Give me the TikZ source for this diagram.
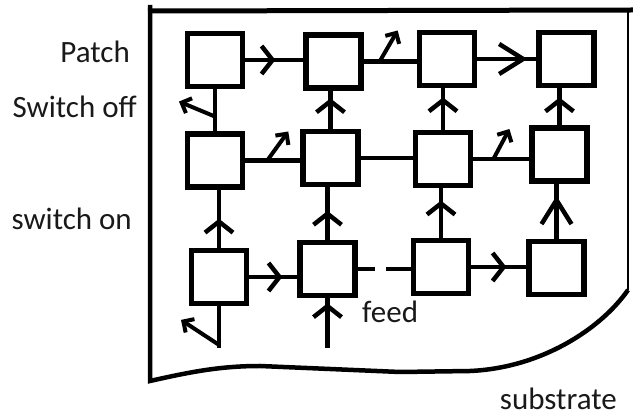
\documentclass[tikz,border=0pt]{standalone}
\usepackage{fontspec}
\setmainfont{Carlito}
\usetikzlibrary{arrows.meta, positioning, decorations.markings}
\tikzset{
    patchbox/.style={rectangle, draw, line width=5.5pt, minimum width=55pt, minimum height=53pt, inner sep=0pt},
    link/.style={line width=4.5pt},
    flow/.style={line width=4.5pt, postaction={decorate}, decoration={markings, mark=at position #1 with {\arrow{Straight Barb[length=11pt, width=28pt, line width=4.5pt]}}}},
    flow/.default=0.5,
    longflow/.style={line width=4.5pt, postaction={decorate}, decoration={markings, mark=at position #1 with {\arrow{Straight Barb[length=24pt, width=30pt, line width=4.5pt]}}}},
    switchoff/.style={line width=4pt, -{Straight Barb[length=8pt, width=16pt, line width=4pt]}},
    textlabel/.style={font=\fontsize{31}{34}\selectfont, text=black!90, inner sep=0pt},
    substrate/.style={line width=5pt}
}

\begin{document}
\begin{tikzpicture}[x=1pt, y=-1pt]
    \useasboundingbox (0,0) rectangle (633,419);

    % Substrate outline
    \draw[substrate] (148,11) -- (633,10);
    \draw[substrate, line width=4.5pt] (150,5) -- (150,381) .. controls (190,372) and (220,366) .. (260,366) -- (400,372) -- (470,371) .. controls (540,368) and (600,330) .. (628,290);
    \draw[line width=2.5pt] (628,290) -- (628,10);

    % Top row of patches
    \node[patchbox] (r1c1) at (215,60) {};
    \node[patchbox, right=58pt of r1c1, yshift=-1.5pt] (r1c2) {};
    \node[patchbox, right=53pt of r1c2, yshift=2.5pt] (r1c3) {};
    \node[patchbox, right=59pt of r1c3] (r1c4) {};

    % Middle row
    \node[patchbox, below=42pt of r1c1] (r2c1) {};
    \node[patchbox, right=55pt of r2c1, yshift=2.5pt] (r2c2) {};
    \node[patchbox, right=52pt of r2c2, yshift=-1pt] (r2c3) {};
    \node[patchbox, right=56pt of r2c3, yshift=4.5pt] (r2c4) {};

    % Bottom row
    \node[patchbox, below=58pt of r2c1, xshift=4pt] (r3c1) {};
    \node[patchbox, right=48pt of r3c1, yshift=8pt] (r3c2) {};
    \node[patchbox, right=53pt of r3c2, yshift=2pt] (r3c3) {};
    \node[patchbox, right=55pt of r3c3, yshift=-1pt] (r3c4) {};

    % Free ends
    \coordinate[below=42pt of r3c1.south] (in_a);
    \coordinate[below=50pt of r3c2.south] (feed_in);
    \coordinate[right=17pt of r3c2.east] (gap_l);
    \coordinate[right=28pt of r3c2.east] (gap_r);

    % Labels
    \node[textlabel, anchor=base east] (patch_label) at (130,63) {Patch};
    \node[textlabel, anchor=base east] (off_label) at (137,118) {Switch off};
    \node[textlabel, anchor=base east] (on_label) at (132,230) {switch on};
    \node[textlabel, anchor=base west] (feed_label) at (362,323) {feed};
    \node[textlabel, anchor=base east] (substrate_label) at (617,410) {substrate};

    % Horizontal links
    \draw[flow=0.52] (r1c1.east) -- (r1c1.east -| r1c2.west);
    \draw[link] (r1c2.east) -- coordinate[pos=0.3] (off_a) (r1c2.east -| r1c3.west);
    \draw[longflow=0.85] (r1c3.east) -- (r1c3.east -| r1c4.west);
    \draw[link] (r2c1.east) -- coordinate[pos=0.4] (off_b) (r2c1.east -| r2c2.west);
    \draw[link] (r2c2.east) -- (r2c2.east -| r2c3.west);
    \draw[link] (r2c3.east) -- coordinate[pos=0.36] (off_c) (r2c3.east -| r2c4.west);
    \draw[flow=0.69] (r3c1.east) -- (r3c1.east -| r3c2.west);
    \draw[link] (r3c2.east) -- (gap_l);
    \draw[link] (gap_r) -- (gap_r -| r3c3.west);
    \draw[flow=0.64] (r3c3.east) -- (r3c3.east -| r3c4.west);

    % Vertical links
    \draw[link] (r2c1.north) -- coordinate[pos=0.35] (off_d) (r2c1.north |- r1c1.south);
    \draw[flow=0.5] (r3c1.north) -- (r3c1.north |- r2c1.south);
    \draw[link] (r3c1.south) -- coordinate[pos=0.92] (off_e) (in_a);
    \draw[flow=0.8] (r2c2.north) -- (r2c2.north |- r1c2.south);
    \draw[flow=0.55] (r3c2.north) -- (r3c2.north |- r2c2.south);
    \draw[flow=0.9] (feed_in) -- (r3c2.south);
    \draw[flow=0.78] (r2c3.north) -- (r2c3.north |- r1c3.south);
    \draw[flow=0.75] (r3c3.north) -- (r3c3.north |- r2c3.south);
    \draw[flow=0.75] (r2c4.north) -- (r2c4.north |- r1c4.south);
    \draw[longflow=0.78] (r3c4.north) -- (r3c4.north |- r2c4.south);

    % Switches that are off
    \draw[switchoff] (off_a) -- ++(18,-31);
    \draw[switchoff] (off_b) -- ++(21,-29);
    \draw[switchoff] (off_c) -- ++(16,-30);
    \draw[switchoff] (off_d) -- ++(-36,-15);
    \draw[switchoff] (off_e) -- ++(-38,-25);
\end{tikzpicture}
\end{document}
